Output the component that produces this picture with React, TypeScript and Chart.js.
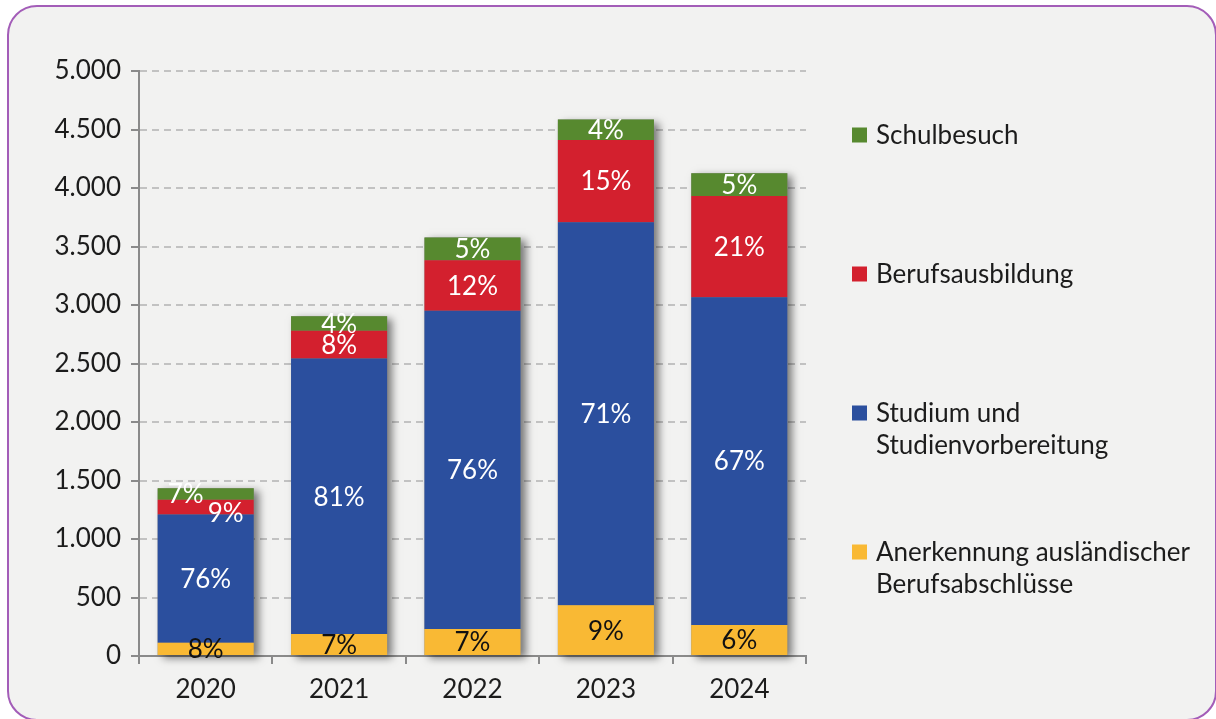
import React, { useEffect, useRef } from 'react';
import { Chart, registerables } from 'chart.js';

Chart.register(...registerables);

// ---- Data ----
const YEARS = ['2020', '2021', '2022', '2023', '2024'];

const ANERKENNUNG = [114, 188, 231, 433, 265];
const STUDIUM = [1096, 2355, 2719, 3274, 2802];
const BERUFSAUSBILDUNG = [125, 236, 433, 704, 865];
const SCHULBESUCH = [98, 125, 194, 174, 194];

const PCT_ANERKENNUNG = ['8%', '7%', '7%', '9%', '6%'];
const PCT_STUDIUM = ['76%', '81%', '76%', '71%', '67%'];
const PCT_BERUFSAUSBILDUNG = ['9%', '8%', '12%', '15%', '21%'];
const PCT_SCHULBESUCH = ['7%', '4%', '5%', '4%', '5%'];

const Y_MIN = 0;
const Y_MAX = 5000;
const Y_STEP = 500;

const LABEL_ANERKENNUNG = ['Anerkennung ausländischer', 'Berufsabschlüsse'];
const LABEL_STUDIUM = ['Studium und', 'Studienvorbereitung'];
const LABEL_BERUFSAUSBILDUNG = ['Berufsausbildung'];
const LABEL_SCHULBESUCH = ['Schulbesuch'];

// ---- Style ----
const FONT_FAMILY = 'Lato, "Noto Sans", sans-serif';
const FONT_SIZE = 26;
const TEXT_COLOR = '#1c1c1c';
const AXIS_COLOR = '#8a8a8a';
const GRID_COLOR = '#c2c2c2';
const C_YELLOW = '#f9b934';
const C_BLUE = '#2b4f9e';
const C_RED = '#d3202e';
const C_GREEN = '#57892f';

const W = 1216;
const H = 719;
const Y_AXIS_W = 100;
const X_AXIS_H = 50;

const formatThousands = (v: number) =>
  String(v).replace(/\B(?=(\d{3})+(?!\d))/g, '.');

const shadowPlugin = {
  id: 'stackShadow',
  beforeDatasetsDraw(chart: any) {
    const ctx = chart.ctx;
    const n = chart.data.datasets.length;
    const first = chart.getDatasetMeta(0);
    const last = chart.getDatasetMeta(n - 1);
    ctx.save();
    first.data.forEach((bar: any, i: number) => {
      const top = last.data[i];
      if (!top) return;
      const x0 = bar.x - bar.width / 2;
      const y0 = top.y;
      const h = bar.base - top.y;
      ctx.shadowColor = 'rgba(0,0,0,0.5)';
      ctx.shadowBlur = 8;
      ctx.shadowOffsetX = 5;
      ctx.shadowOffsetY = 3;
      ctx.fillStyle = '#888';
      ctx.fillRect(x0, y0, bar.width, h);
    });
    ctx.restore();
  },
};

const labelPlugin = {
  id: 'segmentLabels',
  afterDatasetsDraw(chart: any) {
    const ctx = chart.ctx;
    ctx.save();
    ctx.font = `${FONT_SIZE}px ${FONT_FAMILY}`;
    ctx.textAlign = 'center';
    ctx.textBaseline = 'middle';
    const n = chart.data.datasets.length;
    chart.data.datasets.forEach((ds: any, di: number) => {
      const meta = chart.getDatasetMeta(di);
      meta.data.forEach((bar: any, i: number) => {
        let cx = bar.x;
        let cy = (bar.y + bar.base) / 2;
        // thin top segments: spread the two labels apart
        const topMeta = chart.getDatasetMeta(n - 1).data[i];
        const midMeta = chart.getDatasetMeta(n - 2).data[i];
        const topTwoH = midMeta.base - topMeta.y;
        if (topTwoH < 30) {
          if (di === n - 1) cx -= 20;
          if (di === n - 2) {
            cx += 20;
            cy += 5;
          }
        }
        ctx.fillStyle = ds.labelColor;
        ctx.fillText(ds.pct[i], cx, cy + 1);
      });
    });
    ctx.restore();
  },
};

const legendPlugin = {
  id: 'sideLegend',
  afterDraw(chart: any) {
    const ctx = chart.ctx;
    const items = [...chart.data.datasets].reverse();
    const x = 852;
    const firstY = 135;
    const gap = 139;
    const lineH = 32;
    ctx.save();
    ctx.font = `${FONT_SIZE}px ${FONT_FAMILY}`;
    ctx.textAlign = 'left';
    ctx.textBaseline = 'alphabetic';
    items.forEach((ds: any, k: number) => {
      const cy = firstY + gap * k;
      ctx.fillStyle = ds.backgroundColor;
      ctx.fillRect(x, cy - 7.5, 15, 15);
      ctx.fillStyle = TEXT_COLOR;
      ds.legendLines.forEach((line: string, li: number) => {
        ctx.fillText(line, x + 24, cy + 8.5 + li * lineH);
      });
    });
    ctx.restore();
  },
};

export default function App() {
  const ref = useRef<HTMLCanvasElement | null>(null);

  useEffect(() => {
    if (!ref.current) return;
    const chart = new Chart(ref.current, {
      type: 'bar',
      data: {
        labels: YEARS,
        datasets: [
          {
            label: LABEL_ANERKENNUNG.join(' '),
            data: ANERKENNUNG,
            backgroundColor: C_YELLOW,
            pct: PCT_ANERKENNUNG,
            labelColor: '#111',
            legendLines: LABEL_ANERKENNUNG,
          } as any,
          {
            label: LABEL_STUDIUM.join(' '),
            data: STUDIUM,
            backgroundColor: C_BLUE,
            pct: PCT_STUDIUM,
            labelColor: '#ffffff',
            legendLines: LABEL_STUDIUM,
          } as any,
          {
            label: LABEL_BERUFSAUSBILDUNG.join(' '),
            data: BERUFSAUSBILDUNG,
            backgroundColor: C_RED,
            pct: PCT_BERUFSAUSBILDUNG,
            labelColor: '#ffffff',
            legendLines: LABEL_BERUFSAUSBILDUNG,
          } as any,
          {
            label: LABEL_SCHULBESUCH.join(' '),
            data: SCHULBESUCH,
            backgroundColor: C_GREEN,
            pct: PCT_SCHULBESUCH,
            labelColor: '#ffffff',
            legendLines: LABEL_SCHULBESUCH,
          } as any,
        ],
      },
      options: {
        animation: false,
        responsive: false,
        maintainAspectRatio: false,
        datasets: {
          bar: {
            categoryPercentage: 1,
            barPercentage: 0.72,
            borderWidth: 0,
          },
        },
        layout: {
          padding: {
            left: 139 - Y_AXIS_W,
            right: W - 806,
            top: 71,
            bottom: H - 656 - X_AXIS_H,
          },
        },
        plugins: {
          legend: { display: false },
          tooltip: { enabled: false },
          title: { display: false },
        },
        scales: {
          x: {
            stacked: true,
            offset: true,
            afterFit: (s: any) => {
              s.height = X_AXIS_H;
            },
            grid: {
              display: true,
              offset: true,
              drawOnChartArea: false,
              drawTicks: true,
              tickLength: 8,
              color: AXIS_COLOR,
              lineWidth: 2,
            },
            border: { display: true, color: AXIS_COLOR, width: 2 },
            ticks: {
              color: TEXT_COLOR,
              font: { family: FONT_FAMILY, size: FONT_SIZE },
              padding: 10,
              maxRotation: 0,
            },
          },
          y: {
            stacked: true,
            min: Y_MIN,
            max: Y_MAX,
            afterFit: (s: any) => {
              s.width = Y_AXIS_W;
            },
            grid: {
              display: true,
              drawOnChartArea: true,
              drawTicks: true,
              tickLength: 8,
              color: GRID_COLOR,
              lineWidth: 2,
              tickColor: AXIS_COLOR,
              tickWidth: 2,
              tickBorderDash: [1, 0],
            } as any,
            border: {
              display: true,
              color: AXIS_COLOR,
              width: 2,
              dash: [7, 5],
            },
            ticks: {
              stepSize: Y_STEP,
              color: TEXT_COLOR,
              font: { family: FONT_FAMILY, size: FONT_SIZE },
              padding: 10,
              callback: (v: any) => formatThousands(Number(v)),
            },
          },
        },
      },
      plugins: [shadowPlugin, labelPlugin, legendPlugin],
    });
    return () => chart.destroy();
  }, []);

  return (
    <div
      style={{
        position: 'fixed',
        left: 0,
        top: 0,
        width: W,
        height: H,
        background: '#ffffff',
        overflow: 'hidden',
      }}
    >
      <div
        style={{
          position: 'absolute',
          left: 7,
          top: 5,
          width: 1210,
          height: 716,
          boxSizing: 'border-box',
          border: '2px solid #a35db8',
          borderRadius: 30,
          background: '#f2f2f1',
        }}
      />
      <canvas
        ref={ref}
        width={W}
        height={H}
        style={{ position: 'absolute', left: 0, top: 0, width: W, height: H }}
      />
    </div>
  );
}
